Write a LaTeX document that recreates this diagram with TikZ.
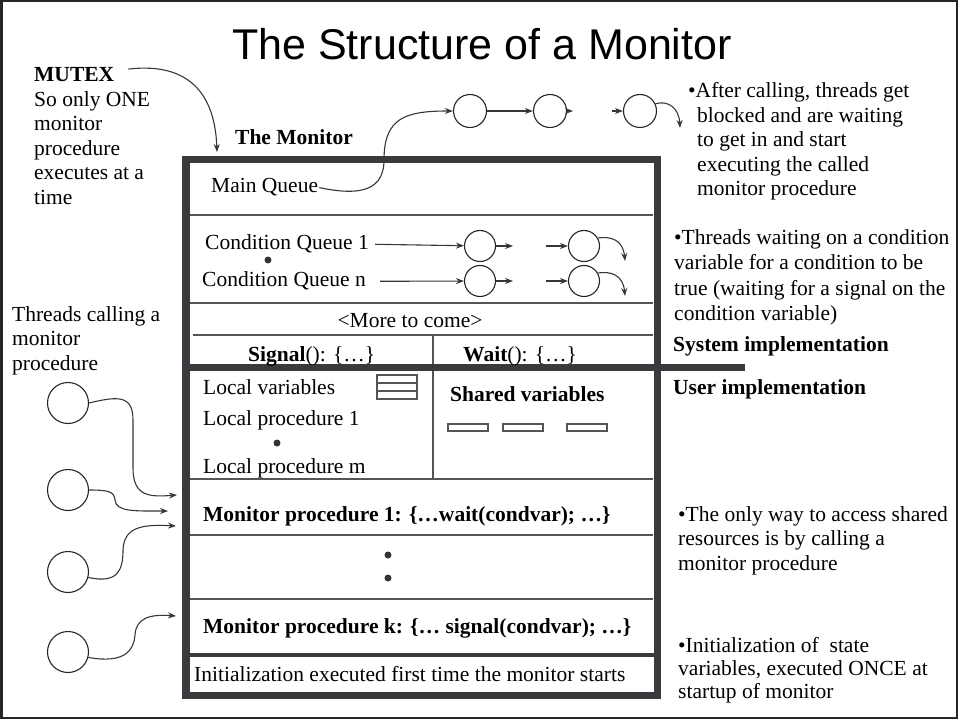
\documentclass[tikz,border=0pt]{standalone}
\usepackage{fontspec}
\setmainfont{Liberation Serif}
\newfontfamily\titlefont{Liberation Sans}
\usetikzlibrary{arrows.meta,calc}
\definecolor{thickc}{RGB}{58,58,62}
\definecolor{thinc}{RGB}{85,85,85}
\definecolor{arrc}{RGB}{55,55,55}
\begin{document}
\begin{tikzpicture}[x=1pt,y=-1pt,
  txt/.style={inner sep=0pt, anchor=base west, font=\fontsize{21.5}{25}\selectfont},
  btxt/.style={inner sep=0pt, anchor=base west, font=\fontsize{21.5}{25}\selectfont\bfseries},
  para/.style={inner sep=0pt, anchor=north west, align=left, font=\fontsize{21.5}{24.5}\selectfont},
  qc/.style={circle, draw=black!85, line width=1.1pt, minimum size=31pt, inner sep=0pt},
  tc/.style={circle, draw=black!85, line width=1.1pt, minimum size=41pt, inner sep=0pt},
  arr/.style={draw=arrc, line width=1.1pt, -{Stealth[length=8pt,width=6pt]}},
  thickln/.style={draw=thickc, line width=7.5pt},
  thinln/.style={draw=thinc, line width=1.4pt},
  dotc/.style={fill=black!80}]

\useasboundingbox (0,0) rectangle (958,719);
\draw[line width=2.5pt, draw=black!85] (1.25,1.25) rectangle (956.75,717.75);

% title
\node[inner sep=0pt, anchor=base, font=\titlefont\fontsize{43}{50}\selectfont] (title) at (482,60) {The Structure of a Monitor};

% monitor box interior lines
\draw[thinln] (190,215) -- (653,215);
\draw[thinln] (190,303) -- (653,303);
\draw[thinln] (193,335) -- (653,335);
\draw[thinln] (190,479) -- (653,479);
\draw[thinln] (190,535) -- (653,535);
\draw[thinln] (190,599) -- (653,599);
\draw[thinln] (433,335) -- (433,479);
\draw[draw=thickc, line width=4.5pt] (186,655) -- (657.5,655);
\draw[thickln] (186,159.5) rectangle (657.5,695.5);
\draw[draw=thickc, line width=7pt] (182,367) -- (745,367);

% left texts
\node[btxt] (mutex) at (34,82) {MUTEX};
\node[para] (mutexp) at (34,91.3) {So only ONE\\monitor\\procedure\\executes at a\\time};
\node[btxt] (monlbl) at (235,145) {The Monitor};
\node[para] (threadsp) at (12,306.3) {Threads calling a\\monitor\\procedure};

% box texts
\node[txt] (mainq) at (211,193) {Main Queue};
\node[txt] (cq1t) at (205,250) {Condition Queue 1};
\node[txt] (cqnt) at (202,287) {Condition Queue n};
\fill[dotc] (268,260) circle (3.5);
\node[txt, anchor=base] (more) at (410,327) {<More to come>};
\node[txt] (sig) at (248,361) {\textbf{Signal}(): \{…\}};
\node[txt] (wait) at (463,361) {\textbf{Wait}(): \{…\}};
\node[txt] (lv) at (203,394) {Local variables};
\node[txt] (lp1) at (203,425) {Local procedure 1};
\fill[dotc] (277,443) circle (3.5);
\node[txt] (lpm) at (203,473) {Local procedure m};
\draw[thinln, line width=1.2pt] (377,375) rectangle (417,399);
\draw[thinln, line width=1.2pt] (377,383) -- (417,383);
\draw[thinln, line width=1.2pt] (377,391) -- (417,391);
\node[btxt] (shv) at (450,401) {Shared variables};
\draw[thinln, line width=1.2pt] (448,424) rectangle (488,431);
\draw[thinln, line width=1.2pt] (503,424) rectangle (543,431);
\draw[thinln, line width=1.2pt] (567,424) rectangle (607,431);
\node[btxt] (mp1) at (203,521) {Monitor procedure 1: \{…wait(condvar); …\}};
\fill[dotc] (388,555) circle (3.5);
\fill[dotc] (388,578) circle (3.5);
\node[btxt] (mpk) at (203,633) {Monitor procedure k: \{… signal(condvar); …\}};
\node[txt] (init) at (194,681) {Initialization executed first time the monitor starts};

% right texts
\node[para] (afterp) at (697,82.3) {\hspace*{-9pt}•After calling, threads get\\blocked and are waiting\\to get in and start\\executing the called\\monitor procedure};
\node[para, font=\fontsize{21.5}{25.5}\selectfont] (condp) at (674,229.3) {•Threads waiting on a condition\\variable for a condition to be\\true (waiting for a signal on the\\condition variable)};
\node[btxt] (sysimp) at (673,351) {System implementation};
\node[btxt] (usrimp) at (673,394) {User implementation};
\node[para] (onlyp) at (678,506.3) {•The only way to access shared\\resources is by calling a\\monitor procedure};
\node[para, font=\fontsize{21.5}{23}\selectfont] (initp) at (678,637.3) {•Initialization of\ \ state\\variables, executed ONCE at\\startup of monitor};

% main queue circles
\node[qc, minimum size=33pt] (mq1) at (470,111) {};
\node[qc, minimum size=33pt] (mq2) at (550,111) {};
\node[qc, minimum size=33pt] (mq3) at (640,111) {};
\coordinate (mq2o) at (573,111);
\coordinate (mq3i) at (612,111);
\coordinate (mqout) at (680,128);
\draw[arr] (mq1) -- (mq2);
\draw[arr] (mq2) -- (mq2o);
\draw[arr] (mq3i) -- (mq3);
\draw[arr] (mq3.25) .. controls (668,100) and (679,108) .. (mqout);
\draw[arr] ([xshift=1pt]mainq.east) .. controls (350,194) and (384,196) .. (384,160) .. controls (384,118) and (405,111) .. (mq1.west);

% mutex arrow
\coordinate (mtx) at (217,152);
\draw[arr] ([shift={(14,-6)}]mutex.east) .. controls (190,62) and (215,95) .. (mtx);

% condition queues
\node[qc] (c11) at (480,246) {};
\node[qc] (c12) at (584,246) {};
\node[qc] (cn1) at (480,281) {};
\node[qc] (cn2) at (584,281) {};
\coordinate (c11o) at (513,246);
\coordinate (c12i) at (546,246);
\coordinate (c12o) at (625,261);
\coordinate (cn1o) at (513,281);
\coordinate (cn2i) at (546,281);
\coordinate (cn2o) at (625,296);
\draw[arr] ([xshift=6pt]cq1t.east) -- (c11);
\draw[arr] (c11) -- (c11o);
\draw[arr] (c12i) -- (c12);
\draw[arr] (c12.30) .. controls (611,236) and (623,240) .. (c12o);
\draw[arr] ([xshift=14pt]cqnt.east) -- (cn1);
\draw[arr] (cn1) -- (cn1o);
\draw[arr] (cn2i) -- (cn2);
\draw[arr] (cn2.30) .. controls (611,271) and (623,275) .. (cn2o);

% thread circles
\node[tc] (t1) at (68,403) {};
\node[tc] (t2) at (68,490) {};
\node[tc] (t3) at (68,572) {};
\node[tc] (t4) at (68,652) {};
\coordinate (m1) at (177,495);
\coordinate (m2) at (168,511);
\coordinate (m3) at (176,526);
\coordinate (m4) at (176,616);
\draw[arr] (t1.east) .. controls (118,396) and (133,395) .. (133,420) -- (133,468) .. controls (133,497) and (150,497) .. (m1);
\draw[arr] (t2.east) .. controls (110,490) and (114,492) .. (115,500) .. controls (116,512) and (135,511) .. (m2);
\draw[arr] (t3.-15) .. controls (118,584) and (123,570) .. (123,550) .. controls (124,528) and (140,524) .. (m3);
\draw[arr] (t4.-15) .. controls (125,664) and (134,650) .. (135,635) .. controls (136,618) and (150,614) .. (m4);
\end{tikzpicture}
\end{document}
